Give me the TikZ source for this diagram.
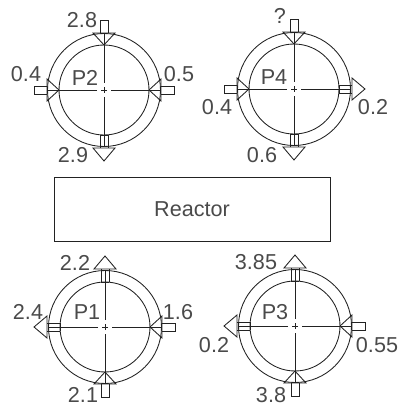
\documentclass[tikz,border=0pt]{standalone}
\usepackage{fontspec}
\setmainfont{Liberation Sans}
\definecolor{ink}{HTML}{222222}
\definecolor{txt}{HTML}{4A4A4A}
\tikzset{
  line/.style={draw=ink,line width=0.65pt},
  lbl/.style={text=txt,font=\fontsize{16.2}{16.2}\selectfont,inner sep=0pt},
}
% arrow pointing toward the centre of the pump, angle #1
\newcommand{\arrIn}[1]{\begin{scope}[rotate=#1]
  \draw[line] (57,4) -- (70,4) -- (70,-4) -- (57,-4);
  \draw[line] (45,0) -- (57,11) -- (57,-11) -- cycle;
\end{scope}}
% arrow pointing away from the centre of the pump, angle #1
\newcommand{\arrOut}[1]{\begin{scope}[rotate=#1]
  \draw[line] (45,4) -- (58,4);
  \draw[line] (45,-4) -- (58,-4);
  \draw[line] (45,4) -- (45,-4);
  \draw[line] (71,0) -- (58,11) -- (58,-11) -- cycle;
\end{scope}}
\newcommand{\pumpBody}{%
  \draw[line] (0,0) circle[radius=45];
  \draw[line] (0,0) circle[radius=56.5];
  \foreach \a in {0,90,180,270}{
    \begin{scope}[rotate=\a]
      \draw[line] (7,0) -- (57,0);
      \draw[line] (-3,0) -- (3,0);
    \end{scope}}%
}
\begin{document}
\begin{tikzpicture}[x=0.75pt,y=-0.75pt]
\useasboundingbox (0,0) rectangle (399,406);
\node[line,draw,minimum width=207pt,minimum height=48pt,inner sep=0pt,lbl] (reactor) at (192,209) {Reactor};
% P2
\begin{scope}[shift={(104,90)}]\pumpBody\arrIn{90}\arrIn{180}\arrIn{0}\arrOut{270}\end{scope}
\node[lbl] (p2) at (85,78) {P2};
\node[lbl] (p2a) at (82,20) {2.8};
\node[lbl] (p2b) at (26,74) {0.4};
\node[lbl] (p2c) at (179,74) {0.5};
\node[lbl] (p2d) at (73,155) {2.9};
% P4
\begin{scope}[shift={(294,89)}]\pumpBody\arrIn{90}\arrIn{180}\arrOut{0}\arrOut{270}\end{scope}
\node[lbl] (p4) at (274,77) {P4};
\node[lbl] (p4a) at (280,16) {?};
\node[lbl] (p4b) at (217,107) {0.4};
\node[lbl] (p4c) at (373,107) {0.2};
\node[lbl] (p4d) at (262,155) {0.6};
% P1
\begin{scope}[shift={(105,327)}]\pumpBody\arrOut{90}\arrOut{180}\arrIn{0}\arrIn{270}\end{scope}
\node[lbl] (p1) at (87,312) {P1};
\node[lbl] (p1a) at (75,263) {2.2};
\node[lbl] (p1b) at (28,312) {2.4};
\node[lbl] (p1c) at (178,312) {1.6};
\node[lbl] (p1d) at (83,395) {2.1};
% P3
\begin{scope}[shift={(295,326)}]\pumpBody\arrOut{90}\arrOut{180}\arrIn{0}\arrIn{270}\end{scope}
\node[lbl] (p3) at (275,312) {P3};
\node[lbl] (p3a) at (256,262) {3.85};
\node[lbl] (p3b) at (214,345) {0.2};
\node[lbl] (p3c) at (377,345) {0.55};
\node[lbl] (p3d) at (271,395) {3.8};
\end{tikzpicture}
\end{document}
